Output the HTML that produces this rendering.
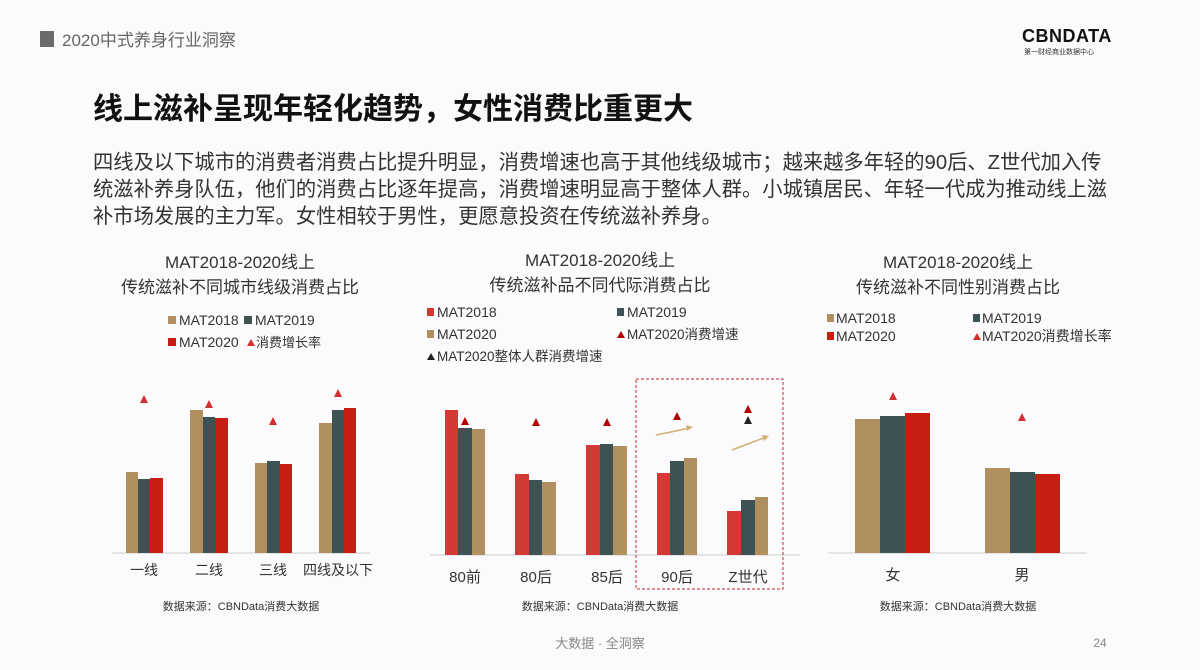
<!DOCTYPE html>
<html><head><meta charset="utf-8"><style>
body{margin:0;background:#fbfbfd;}
#c{position:relative;width:1200px;height:670px;overflow:hidden;font-family:"Liberation Sans","Noto Sans CJK SC",sans-serif;}
</style></head><body><div id="c">
<svg width="1200" height="670" style="position:absolute;left:0;top:0" font-family="Liberation Sans, Noto Sans CJK SC, sans-serif">
<rect x="40" y="31" width="14" height="16" fill="#6b6b6b"/>
<text x="62" y="46" font-size="17" fill="#666">2020中式养身行业洞察</text>
<text x="1022" y="42" font-size="18" font-weight="bold" fill="#111" letter-spacing="0.5">CBNDATA</text>
<text x="1024" y="54" font-size="7" fill="#333">第一财经商业数据中心</text>
<text x="93" y="119" font-size="30" font-weight="bold" fill="#111">线上滋补呈现年轻化趋势，女性消费比重更大</text>
<g font-size="20.3" fill="#333">
<text x="93" y="169">四线及以下城市的消费者消费占比提升明显，消费增速也高于其他线级城市；越来越多年轻的90后、Z世代加入传</text>
<text x="93" y="196">统滋补养身队伍，他们的消费占比逐年提高，消费增速明显高于整体人群。小城镇居民、年轻一代成为推动线上滋</text>
<text x="93" y="223">补市场发展的主力军。女性相较于男性，更愿意投资在传统滋补养身。</text>
</g>
<g font-size="17" fill="#333" text-anchor="middle">
<text x="240" y="268">MAT2018-2020线上</text><text x="240" y="293">传统滋补不同城市线级消费占比</text>
<text x="600" y="266">MAT2018-2020线上</text><text x="600" y="291">传统滋补品不同代际消费占比</text>
<text x="958" y="268">MAT2018-2020线上</text><text x="958" y="293">传统滋补不同性别消费占比</text>
</g>
<g font-size="14" fill="#333">
<rect x="168" y="316" width="8" height="8" fill="#b09060"/><text x="179" y="325">MAT2018</text>
<rect x="244" y="316" width="8" height="8" fill="#3e5254"/><text x="255" y="325">MAT2019</text>
<rect x="168" y="338" width="8" height="8" fill="#c81e12"/><text x="179" y="347">MAT2020</text>
<polygon points="247,346 251,339 255,346" fill="#d03030"/><text x="256" y="347" font-size="13">消费增长率</text>
</g>
<line x1="112" y1="553" x2="370" y2="553" stroke="#ccc"/>
<g fill="#b09060"><rect x="126" y="472" width="12" height="81"/><rect x="190" y="410" width="13" height="143"/><rect x="255" y="463" width="12" height="90"/><rect x="319" y="423" width="13" height="130"/></g>
<g fill="#3e5254"><rect x="138" y="479" width="12" height="74"/><rect x="203" y="417" width="12" height="136"/><rect x="267" y="461" width="13" height="92"/><rect x="332" y="410" width="12" height="143"/></g>
<g fill="#c81e12"><rect x="150" y="478" width="13" height="75"/><rect x="215" y="418" width="13" height="135"/><rect x="280" y="464" width="12" height="89"/><rect x="344" y="408" width="12" height="145"/></g>
<g fill="#d03030"><polygon points="140,403 144,395 148,403"/><polygon points="205,408 209,400 213,408"/><polygon points="269,425 273,417 277,425"/><polygon points="334,397 338,389 342,397"/></g>
<g font-size="14" fill="#333" text-anchor="middle"><text x="144" y="575">一线</text><text x="209" y="575">二线</text><text x="273" y="575">三线</text><text x="338" y="575">四线及以下</text></g>
<g font-size="14" fill="#333">
<rect x="427" y="308" width="7" height="8" fill="#d43a35"/><text x="437" y="317">MAT2018</text>
<rect x="617" y="308" width="7" height="8" fill="#3e5254"/><text x="627" y="317">MAT2019</text>
<rect x="427" y="330" width="7" height="8" fill="#b09060"/><text x="437" y="339">MAT2020</text>
<polygon points="617,338 621,331 625,338" fill="#b00000"/><text x="627" y="339" font-size="13.5">MAT2020消费增速</text>
<polygon points="427,360 431,353 435,360" fill="#222"/><text x="437" y="361" font-size="13.5">MAT2020整体人群消费增速</text>
</g>
<line x1="430" y1="555" x2="800" y2="555" stroke="#ccc"/>
<g fill="#d43a35"><rect x="445" y="410" width="13" height="145"/><rect x="515" y="474" width="14" height="81"/><rect x="586" y="445" width="14" height="110"/><rect x="657" y="473" width="13" height="82"/><rect x="727" y="511" width="14" height="44"/></g>
<g fill="#3e5254"><rect x="458" y="428" width="14" height="127"/><rect x="529" y="480" width="13" height="75"/><rect x="600" y="444" width="13" height="111"/><rect x="670" y="461" width="14" height="94"/><rect x="741" y="500" width="14" height="55"/></g>
<g fill="#b09060"><rect x="472" y="429" width="13" height="126"/><rect x="542" y="482" width="14" height="73"/><rect x="613" y="446" width="14" height="109"/><rect x="684" y="458" width="13" height="97"/><rect x="755" y="497" width="13" height="58"/></g>
<g fill="#b00000"><polygon points="461,425 465,417 469,425"/><polygon points="532,426 536,418 540,426"/><polygon points="603,426 607,418 611,426"/><polygon points="673,420 677,412 681,420"/><polygon points="744,413 748,405 752,413"/></g>
<polygon points="744,424 748,416 752,424" fill="#222"/>
<g stroke="#d4b070" stroke-width="1.5" fill="#d4b070"><line x1="656" y1="435" x2="690" y2="428"/><polygon points="693,427 686,425 687,431" stroke="none"/><line x1="732" y1="450" x2="766" y2="437"/><polygon points="769,436 762,435 764,441" stroke="none"/></g>
<rect x="636" y="379" width="147" height="210" fill="none" stroke="#c0272d" stroke-dasharray="3,2"/>
<g font-size="15" fill="#333" text-anchor="middle"><text x="465" y="582">80前</text><text x="536" y="582">80后</text><text x="607" y="582">85后</text><text x="677" y="582">90后</text><text x="748" y="582">Z世代</text></g>
<g font-size="14" fill="#333">
<rect x="827" y="314" width="7" height="8" fill="#b09060"/><text x="836" y="323">MAT2018</text>
<rect x="973" y="314" width="7" height="8" fill="#3e5254"/><text x="982" y="323">MAT2019</text>
<rect x="827" y="332" width="7" height="8" fill="#c81e12"/><text x="836" y="341">MAT2020</text>
<polygon points="973,340 977,333 981,340" fill="#d03030"/><text x="982" y="341">MAT2020消费增长率</text>
</g>
<line x1="828" y1="553" x2="1087" y2="553" stroke="#ccc"/>
<rect x="855" y="419" width="25" height="134" fill="#b09060"/><rect x="880" y="416" width="25" height="137" fill="#3e5254"/><rect x="905" y="413" width="25" height="140" fill="#c81e12"/>
<rect x="985" y="468" width="25" height="85" fill="#b09060"/><rect x="1010" y="472" width="25" height="81" fill="#3e5254"/><rect x="1035" y="474" width="25" height="79" fill="#c81e12"/>
<g fill="#d03030"><polygon points="889,400 893,392 897,400"/><polygon points="1018,421 1022,413 1026,421"/></g>
<g font-size="15" fill="#333" text-anchor="middle"><text x="893" y="580">女</text><text x="1022" y="580">男</text></g>
<g font-size="11" fill="#333" text-anchor="middle"><text x="241" y="610">数据来源：CBNData消费大数据</text><text x="600" y="610">数据来源：CBNData消费大数据</text><text x="958" y="610">数据来源：CBNData消费大数据</text></g>
<text x="600" y="648" font-size="13" fill="#888" text-anchor="middle">大数据 · 全洞察</text>
<text x="1100" y="647" font-size="12" fill="#888" text-anchor="middle">24</text>
</svg>
</div></body></html>
